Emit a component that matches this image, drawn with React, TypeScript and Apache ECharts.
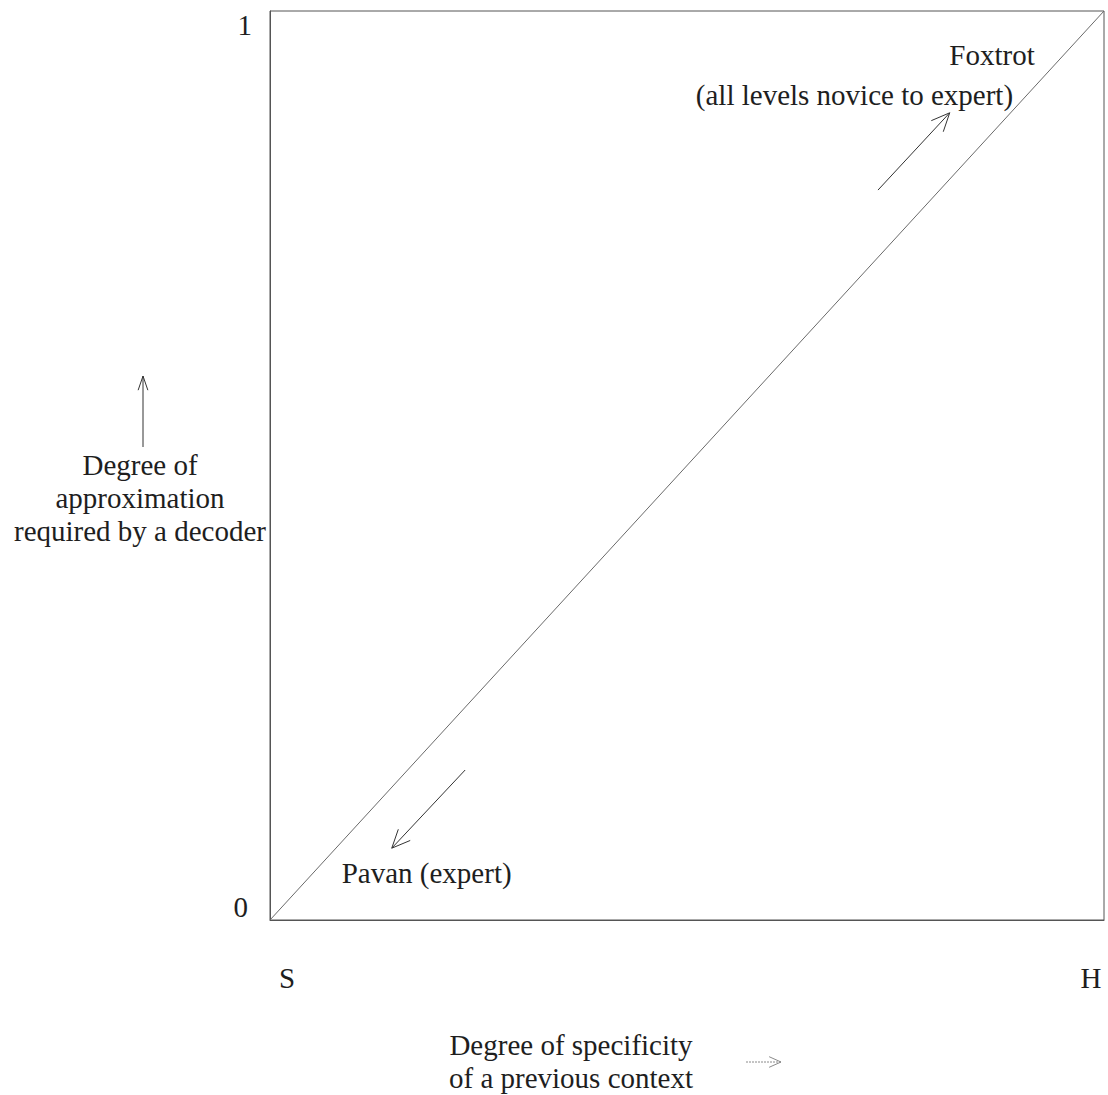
import React, { useEffect, useRef } from "react";
import * as echarts from "echarts";

// Tick labels
const xTickLabels = ["S", "H"];
const yTickLabels = ["0", "1"];

// Diagonal series (data coordinates)
const diagonalX = [0, 1];
const diagonalY = [0, 1];

// Annotation arrows inside the plot (data coordinates: [x, y] start -> end)
const foxtrotArrow: [number, number][] = [[0.729, 0.803], [0.815, 0.888]];
const pavanArrow: [number, number][] = [[0.234, 0.165], [0.146, 0.079]];

// Annotation labels
const foxtrotLines = ["Foxtrot", "(all levels novice to expert)"];
const pavanLabel = "Pavan (expert)";

// Axis titles
const yTitleLines = ["Degree of", "approximation", "required by a decoder"];
const xTitleLines = ["Degree of specificity", "of a previous context"];

const FONT = "Liberation Serif, Times New Roman, serif";
const FS = 29;
const TXT = "#1e1e1e";

function arrowEls(a: number[], b: number[], head: number, color: string, spread = 0.42, dash?: number[]) {
  const ang = Math.atan2(b[1] - a[1], b[0] - a[0]);
  const l = [b[0] - head * Math.cos(ang - spread), b[1] - head * Math.sin(ang - spread)];
  const r = [b[0] - head * Math.cos(ang + spread), b[1] - head * Math.sin(ang + spread)];
  return [
    {
      type: "line",
      shape: { x1: a[0], y1: a[1], x2: b[0], y2: b[1] },
      style: { stroke: color, lineWidth: 1, lineDash: dash },
      silent: true,
    },
    {
      type: "polyline",
      shape: { points: [l, b, r] },
      style: { stroke: color, lineWidth: 1, fill: null },
      silent: true,
    },
  ];
}

function textEl(text: string, x: number, y: number, align: string) {
  return {
    type: "text",
    x,
    y,
    silent: true,
    style: {
      text,
      font: `${FS}px ${FONT}`,
      fill: TXT,
      textAlign: align,
      textVerticalAlign: "middle",
    },
  };
}

export default function App() {
  const ref = useRef<HTMLDivElement>(null);

  useEffect(() => {
    document.body.style.margin = "0";
    if (!ref.current) return;
    const chart = echarts.init(ref.current, null, { renderer: "svg" });

    const option: any = {
      animation: false,
      backgroundColor: "#ffffff",
      grid: {
        left: 270,
        top: 11,
        right: 4,
        bottom: 175,
        show: true,
        borderColor: "#555",
        borderWidth: 1,
        backgroundColor: "transparent",
      },
      xAxis: {
        type: "value",
        min: 0,
        max: 1,
        interval: 1,
        axisLine: { show: true, lineStyle: { color: "#555", width: 1 } },
        axisTick: { show: false },
        splitLine: { show: false },
        axisLabel: {
          margin: 43,
          formatter: (v: number) => (Math.round(v) === 0 ? `{s|${xTickLabels[0]}}` : `{h|${xTickLabels[1]}}`),
          rich: {
            s: { fontFamily: FONT, fontSize: FS, color: TXT, padding: [0, 0, 0, 34] },
            h: { fontFamily: FONT, fontSize: FS, color: TXT, padding: [0, 26, 0, 0] },
          },
        },
      },
      yAxis: {
        type: "value",
        min: 0,
        max: 1,
        interval: 1,
        axisLine: { show: true, lineStyle: { color: "#555", width: 1 } },
        axisTick: { show: false },
        splitLine: { show: false },
        axisLabel: {
          margin: 18,
          formatter: (v: number) => (Math.round(v) === 0 ? `{lo|${yTickLabels[0]}}` : `{hi|${yTickLabels[1]}}`),
          rich: {
            lo: { fontFamily: FONT, fontSize: FS, color: TXT, padding: [0, 4, 26, 0] },
            hi: { fontFamily: FONT, fontSize: FS, color: TXT, padding: [28, 0, 0, 0] },
          },
        },
      },
      series: [
        {
          type: "line",
          data: diagonalX.map((x, i) => [x, diagonalY[i]]),
          showSymbol: false,
          lineStyle: { color: "#6a6a6a", width: 1 },
          silent: true,
        },
      ],
    };
    chart.setOption(option);

    const px = (p: number[]) => chart.convertToPixel({ gridIndex: 0 }, p) as number[];

    const fa = foxtrotArrow.map(px);
    const pa = pavanArrow.map(px);
    const fox1 = px([0.917, 0.952]);
    const fox2 = px([0.891, 0.908]);
    const pav = px([0.086, 0.052]);

    const graphic: any[] = [
      ...arrowEls(fa[0], fa[1], 20, "#333"),
      ...arrowEls(pa[0], pa[1], 20, "#333"),
      textEl(foxtrotLines[0], fox1[0], fox1[1], "right"),
      textEl(foxtrotLines[1], fox2[0], fox2[1], "right"),
      textEl(pavanLabel, pav[0], pav[1], "left"),
      // y title
      ...yTitleLines.map((t, i) => textEl(t, 140, 465 + i * 33, "center")),
      ...arrowEls([143, 447], [143, 376], 15, "#333", 0.33),
      // x title
      ...xTitleLines.map((t, i) => textEl(t, 571, 1045 + i * 33, "center")),
      ...arrowEls([746, 1062], [781, 1062], 13, "#8a8a8a", 0.42, [2, 1]),
    ];
    chart.setOption({ graphic });

    return () => chart.dispose();
  }, []);

  return <div ref={ref} style={{ width: 1108, height: 1095 }} />;
}
